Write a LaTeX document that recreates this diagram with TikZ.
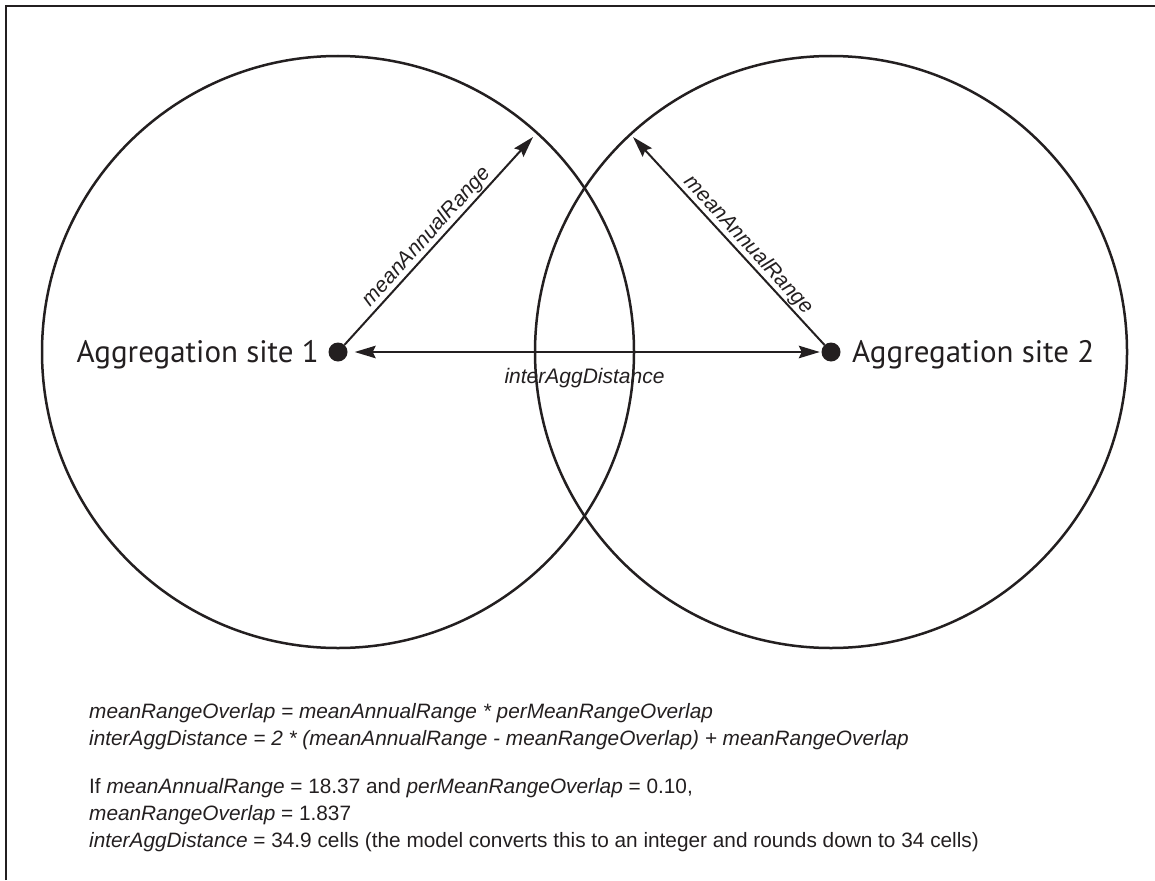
\documentclass[tikz,border=0pt]{standalone}
\usepackage{fontspec}
\setmainfont{Liberation Sans}
\newfontfamily\sitefont{PT Sans}
\usetikzlibrary{arrows.meta}
\definecolor{ink}{RGB}{35,31,32}

\begin{document}
\begin{tikzpicture}[x=1pt, y=-1pt,
  >={Stealth[length=21pt, width=12.5pt, inset=3pt]},
  frameline/.style={draw=ink, line width=2.5pt, line join=miter},
  rangering/.style={circle, draw=ink, line width=2.5pt, minimum size=592pt, inner sep=0pt},
  site/.style={circle, fill=ink, inner sep=0pt, minimum size=19pt},
  sitelabel/.style={font=\sitefont\fontsize{31}{31}\selectfont, text=ink, inner sep=0pt},
  measure/.style={draw=ink, line width=2pt},
  varlabel/.style={font=\itshape\fontsize{21}{21}\selectfont, text=ink},
  note/.style={font=\fontsize{20.8}{25}\selectfont, text=ink, anchor=base west, inner sep=0pt}
]
\useasboundingbox (0,0) rectangle (1155,880);

% outer frame (left and top edges)
\draw[frameline] (6,880) -- (6,6) -- (1155,6);

% home ranges around the two aggregation sites
\node[rangering] (range1) at (338,352) {};
\node[rangering] (range2) at (831,352) {};

% aggregation sites
\node[site] (s1) at (338,352) {};
\node[site] (s2) at (831,352) {};
\node[sitelabel, anchor=base east] (l1) at (319,362) {Aggregation site 1};
\node[sitelabel, anchor=base west] (l2) at (852,362) {Aggregation site 2};

% radius arrows
\coordinate (t1) at (533,137);
\coordinate (t2) at (633,137);
\draw[measure, ->] (s1) -- (t1);
\draw[measure, ->] (s2) -- (t2);
\path (s1.center) -- (t1) node[varlabel, midway, sloped, above, inner sep=1.5pt] (r1) {meanAnnualRange};
\path (t2) -- (s2.center) node[varlabel, pos=0.54, sloped, above, inner sep=1.5pt] (r2) {meanAnnualRange};

% distance between the sites
\draw[measure, <->, shorten <=7pt, shorten >=1.5pt] (s1) -- (s2);
\path (s1) -- (s2) node[varlabel, midway, below=16pt, inner sep=0pt] (d) {interAggDistance};

% formulas
\node[note] (n1) at (89,718) {\itshape meanRangeOverlap = meanAnnualRange * perMeanRangeOverlap};
\node[note] (n2) at (89,745) {\itshape interAggDistance = 2 * (meanAnnualRange - meanRangeOverlap) + meanRangeOverlap};
\node[note] (n3) at (89,793) {If \textit{meanAnnualRange} = 18.37 and \textit{perMeanRangeOverlap} = 0.10,};
\node[note] (n4) at (89,820) {\textit{meanRangeOverlap} = 1.837};
\node[note] (n5) at (89,847) {\textit{interAggDistance} = 34.9 cells (the model converts this to an integer and rounds down to 34 cells)};
\end{tikzpicture}
\end{document}
